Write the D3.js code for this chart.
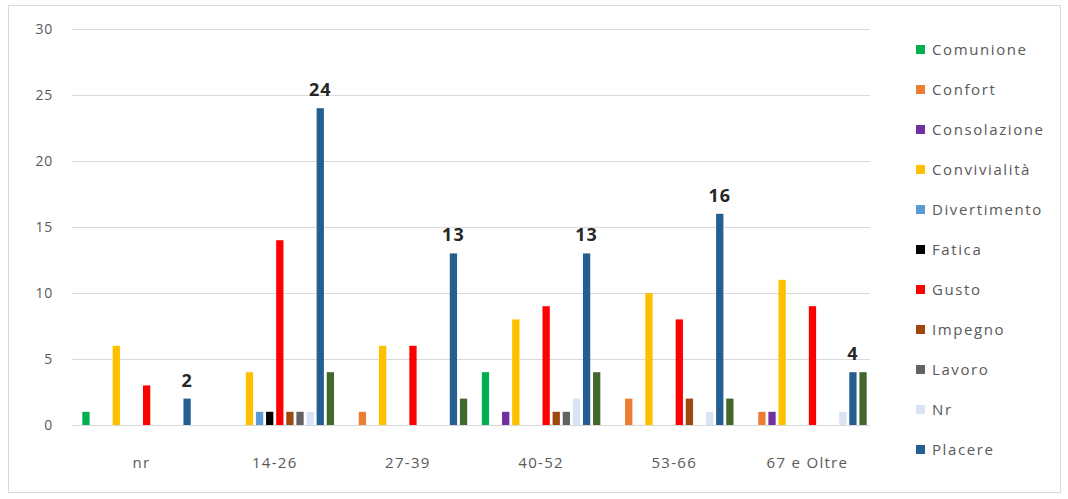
<!DOCTYPE html>
<html>
<head>
<meta charset="utf-8">
<script src="https://cdn.jsdelivr.net/npm/d3@7"></script>
<style>
  body { margin: 0; background: #fff; }
  text { font-family: "Open Sans", sans-serif; }
</style>
</head>
<body>
<div id="chart"></div>
<script>
const width = 1068;
const height = 499;

// age groups
const groups = ["nr", "14-26", "27-39", "40-52", "53-66", "67 e Oltre"];
// series (the last one is not shown in the legend)
const series = ["Comunione", "Confort", "Consolazione", "Convivialità", "Divertimento",
    "Fatica", "Gusto", "Impegno", "Lavoro", "Nr", "Placere", "Relax"];
const colors = ["#00b050", "#ed7d31", "#7030a0", "#ffc000", "#5b9bd5",
    "#000000", "#ff0000", "#9e480e", "#636363", "#dae3f3", "#255e91", "#43682b"];

// values per series, one per group
const comunione    = [1, 0, 0, 4, 0, 0];
const confort      = [0, 0, 1, 0, 2, 1];
const consolazione = [0, 0, 0, 1, 0, 1];
const convivialita = [6, 4, 6, 8, 10, 11];
const divertimento = [0, 1, 0, 0, 0, 0];
const fatica       = [0, 1, 0, 0, 0, 0];
const gusto        = [3, 14, 6, 9, 8, 9];
const impegno      = [0, 1, 0, 1, 2, 0];
const lavoro       = [0, 1, 0, 1, 0, 0];
const nrVals       = [0, 1, 0, 2, 1, 1];
const placere      = [2, 24, 13, 13, 16, 4];
const relax        = [0, 4, 2, 4, 2, 4];

const values = [comunione, confort, consolazione, convivialita, divertimento,
    fatica, gusto, impegno, lavoro, nrVals, placere, relax];

const yTicks = [0, 5, 10, 15, 20, 25, 30];
const legendCount = 11;

const svg = d3.select("#chart").append("svg")
    .attr("width", width)
    .attr("height", height);

// outer frame
svg.append("rect")
    .attr("x", 8.5).attr("y", 5.5)
    .attr("width", 1052).attr("height", 487)
    .attr("fill", "#fff")
    .attr("stroke", "#d9d9d9");

const plot = { left: 75, right: 874, top: 29, bottom: 425 };

const x0 = d3.scaleBand().domain(groups).range([plot.left, plot.right]).paddingInner(0.11).paddingOuter(0.055);
const x1 = d3.scaleBand().domain(series).range([0, x0.bandwidth()]).paddingInner(0.28);
const y = d3.scaleLinear().domain([0, 30]).range([plot.bottom, plot.top]);

// gridlines
svg.append("g")
    .selectAll("line")
    .data(yTicks)
    .join("line")
    .attr("x1", 72).attr("x2", 870)
    .attr("y1", d => Math.round(y(d)) + 0.5)
    .attr("y2", d => Math.round(y(d)) + 0.5)
    .attr("stroke", "#d9d9d9");

// y axis labels
svg.append("g")
    .selectAll("text")
    .data(yTicks)
    .join("text")
    .attr("x", 53)
    .attr("y", d => y(d) + 5)
    .attr("text-anchor", "end")
    .attr("font-size", 14)
    .attr("letter-spacing", 0.8)
    .attr("fill", "#595959")
    .text(d => d);

// bars
const gGroups = svg.append("g")
    .selectAll("g")
    .data(groups)
    .join("g")
    .attr("transform", d => `translate(${x0(d)},0)`);

gGroups.selectAll("rect")
    .data((g, gi) => series.map((s, si) => ({ s, si, v: values[si][gi] })).filter(d => d.v > 0))
    .join("rect")
    .attr("x", d => x1(d.s))
    .attr("width", x1.bandwidth())
    .attr("y", d => y(d.v))
    .attr("height", d => y(0) - y(d.v))
    .attr("fill", d => colors[d.si]);

// data labels on Placere
gGroups.append("text")
    .attr("x", x1("Placere") + x1.bandwidth() / 2)
    .attr("y", (g, gi) => y(placere[gi]) - 12)
    .attr("text-anchor", "middle")
    .attr("font-size", 18)
    .attr("letter-spacing", 1)
    .attr("font-weight", "bold")
    .attr("fill", "#262626")
    .text((g, gi) => placere[gi]);

// x axis labels
svg.append("g")
    .selectAll("text")
    .data(groups)
    .join("text")
    .attr("x", d => x0(d) + x0.bandwidth() / 2)
    .attr("y", 468)
    .attr("text-anchor", "middle")
    .attr("font-size", 15)
    .attr("letter-spacing", 1.3)
    .attr("fill", "#595959")
    .text(d => d);

// legend
const legend = svg.append("g")
    .selectAll("g")
    .data(series.slice(0, legendCount))
    .join("g")
    .attr("transform", (d, i) => `translate(916,${50 + i * 40})`);

legend.append("rect")
    .attr("x", 0).attr("y", -5)
    .attr("width", 9).attr("height", 9)
    .attr("fill", (d, i) => colors[i]);

legend.append("text")
    .attr("x", 16)
    .attr("y", 5)
    .attr("font-size", 15)
    .attr("letter-spacing", 1.6)
    .attr("fill", "#595959")
    .text(d => d);
</script>
</body>
</html>
